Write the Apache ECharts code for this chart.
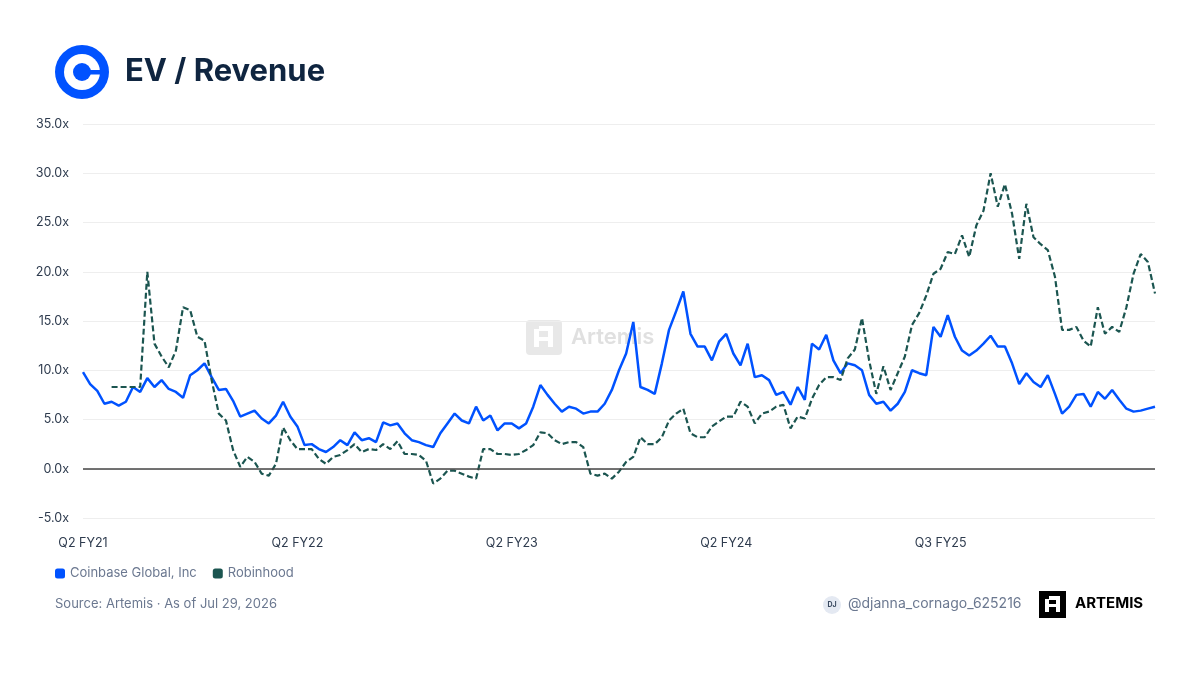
<!DOCTYPE html>
<html>
<head>
<meta charset="utf-8">
<script src="https://cdn.jsdelivr.net/npm/echarts@6/dist/echarts.min.js"></script>
<style>
  html, body { margin: 0; padding: 0; background: #fff; }
  #chart { width: 1200px; height: 675px; }
</style>
</head>
<body>
<div id="chart"></div>
<script>
// x轴刻度标签 (每30个点一个)
var tickLabels = ['Q2 FY21', 'Q2 FY22', 'Q2 FY23', 'Q2 FY24', 'Q3 FY25'];
var tickStep = 30;

// Coinbase EV/Revenue
var coinbase = [
  9.8, 8.6, 7.9, 6.6, 6.8, 6.4, 6.8, 8.3, 7.8, 9.2,
  8.3, 9.0, 8.1, 7.8, 7.2, 9.5, 10.0, 10.7, 9.3, 8.0,
  8.1, 6.9, 5.3, 5.6, 5.9, 5.1, 4.6, 5.4, 6.8, 5.3,
  4.3, 2.4, 2.5, 2.0, 1.7, 2.2, 2.9, 2.4, 3.7, 2.9,
  3.1, 2.7, 4.7, 4.4, 4.6, 3.6, 2.9, 2.7, 2.4, 2.2,
  3.6, 4.6, 5.6, 4.9, 4.6, 6.3, 4.9, 5.4, 3.9, 4.6,
  4.6, 4.1, 4.6, 6.3, 8.5, 7.5, 6.6, 5.8, 6.3, 6.1,
  5.6, 5.8, 5.8, 6.6, 8.0, 10.0, 11.7, 14.9, 8.3, 8.0,
  7.6, 10.7, 14.1, 16.0, 18.0, 13.7, 12.4, 12.4, 11.0, 12.9,
  13.7, 11.7, 10.5, 12.7, 9.3, 9.5, 9.0, 7.5, 7.8, 6.5,
  8.3, 7.0, 12.7, 12.1, 13.6, 11.0, 9.7, 10.7, 10.5, 10.0,
  7.5, 6.6, 6.8, 5.9, 6.6, 7.8, 10.0, 9.7, 9.5, 14.4,
  13.4, 15.6, 13.4, 12.0, 11.5, 12.0, 12.7, 13.5, 12.4, 12.4,
  10.7, 8.6, 9.7, 8.8, 8.3, 9.5, 7.6, 5.6, 6.3, 7.5,
  7.6, 6.3, 7.8, 7.1, 8.0, 7.0, 6.1, 5.8, 5.9, 6.1,
  6.3
];

// Robinhood EV/Revenue
var robinhood = [
  null, null, null, null, 8.3, 8.3, 8.3, 8.3, 8.3, 20.0,
  12.7, 11.4, 10.3, 12.0, 16.4, 16.1, 13.4, 13.0, 9.0, 5.6,
  4.9, 1.9, 0.2, 1.2, 0.7, -0.5, -0.7, 0.5, 4.2, 2.9,
  2.0, 2.0, 2.0, 1.0, 0.5, 1.2, 1.4, 1.9, 2.5, 1.7,
  2.0, 1.9, 2.5, 2.0, 2.8, 1.5, 1.5, 1.4, 0.8, -1.5,
  -1.0, -0.2, -0.2, -0.5, -0.8, -1.0, 2.0, 2.0, 1.5, 1.5,
  1.4, 1.5, 1.9, 2.4, 3.7, 3.6, 2.9, 2.5, 2.7, 2.7,
  2.2, -0.5, -0.7, -0.5, -1.0, -0.3, 0.7, 1.2, 3.2, 2.5,
  2.5, 3.2, 4.9, 5.6, 6.1, 3.6, 3.2, 3.2, 4.3, 4.8,
  5.3, 5.3, 6.8, 6.3, 4.6, 5.6, 5.8, 6.3, 6.5, 4.1,
  5.3, 5.1, 7.1, 8.5, 9.3, 9.3, 9.0, 11.2, 12.1, 15.3,
  11.0, 7.6, 10.4, 8.0, 9.7, 11.4, 14.6, 15.8, 17.6, 19.8,
  20.3, 22.0, 21.8, 23.7, 21.5, 24.7, 26.2, 30.0, 26.6, 28.9,
  25.9, 21.3, 26.9, 23.5, 22.8, 22.2, 19.5, 14.1, 14.1, 14.4,
  13.0, 12.4, 16.4, 13.7, 14.4, 13.9, 16.4, 19.8, 21.8, 21.0,
  17.8
];

var seriesNames = ['Coinbase Global, Inc', 'Robinhood'];
var seriesColors = ['#0052FF', '#1B5550'];

var categories = coinbase.map(function (v, i) { return i; });

var FONT = 'Inter, "Noto Sans", sans-serif';

var Chart = echarts.init(document.getElementById('chart'));
Chart.setOption({
    backgroundColor: '#ffffff',
    animation: false,
    textStyle: { fontFamily: FONT },
    grid: {
        left: 83,
        right: 45,
        top: 124,
        bottom: 157
    },
    legend: {
        left: 50,
        top: 562,
        icon: 'roundRect',
        itemWidth: 10,
        itemHeight: 10,
        itemGap: 16,
        textStyle: { color: '#6B7890', fontSize: 13, fontFamily: FONT },
        data: seriesNames
    },
    xAxis: {
        type: 'category',
        boundaryGap: false,
        data: categories,
        axisLine: { show: false },
        axisTick: { show: false },
        axisLabel: {
            interval: tickStep - 1,
            margin: 19,
            color: '#2E3B4E',
            fontSize: 12.5,
            formatter: function (v, idx) {
                return tickLabels[idx / tickStep] || '';
            }
        },
        splitLine: { show: false }
    },
    yAxis: {
        type: 'value',
        min: -5,
        max: 35,
        interval: 5,
        axisLine: { show: false },
        axisTick: { show: false },
        axisLabel: {
            margin: 14,
            color: '#2E3B4E',
            fontSize: 12.5,
            formatter: function (v) { return v.toFixed(1) + 'x'; }
        },
        splitLine: { lineStyle: { color: '#EEEEEE', width: 1 } }
    },
    graphic: [
        // 标题 logo
        { type: 'circle', shape: { cx: 82, cy: 72, r: 27 }, style: { fill: '#0052FF' } },
        { type: 'circle', shape: { cx: 82, cy: 72, r: 18 }, style: { fill: '#ffffff' } },
        { type: 'circle', shape: { cx: 82, cy: 72, r: 9 }, style: { fill: '#0052FF' } },
        { type: 'rect', shape: { x: 82, y: 70, width: 20, height: 4.5 }, style: { fill: '#0052FF' } },
        {
            type: 'text', left: 125, top: 56,
            style: { text: 'EV / Revenue', fill: '#0F2540', font: 'bold 31px ' + FONT }
        },
        // 水印
        {
            type: 'group', z: 0,
            children: [
                { type: 'rect', shape: { x: 526, y: 320, width: 36, height: 35, r: 4 }, style: { fill: '#E8E8E8' } },
                { type: 'rect', shape: { x: 534, y: 329, width: 5, height: 18 }, style: { fill: '#ffffff' } },
                { type: 'rect', shape: { x: 539, y: 326, width: 10, height: 5 }, style: { fill: '#ffffff' } },
                { type: 'rect', shape: { x: 548, y: 326, width: 5, height: 21 }, style: { fill: '#ffffff' } },
                { type: 'rect', shape: { x: 534, y: 337, width: 19, height: 4 }, style: { fill: '#ffffff' } },
                {
                    type: 'text', x: 571, y: 326,
                    style: { text: 'Artemis', fill: '#E0E0E0', font: '600 22px ' + FONT }
                }
            ]
        },
        // 来源
        {
            type: 'text', left: 55, top: 598,
            style: { text: 'Source: Artemis \u00b7 As of Jul 29, 2026', fill: '#6B7890', font: '13px ' + FONT }
        },
        // 作者
        { type: 'circle', shape: { cx: 832, cy: 605, r: 9 }, style: { fill: '#E4E9F2' } },
        {
            type: 'text', x: 832, y: 605,
            style: { text: 'DJ', fill: '#3A4A60', font: 'bold 7px ' + FONT, align: 'center', verticalAlign: 'middle' }
        },
        {
            type: 'text', left: 848, top: 597,
            style: { text: '@djanna_cornago_625216', fill: '#6B7890', font: '14px ' + FONT }
        },
        // Artemis 标志
        { type: 'rect', shape: { x: 1039, y: 591, width: 27, height: 27 }, style: { fill: '#000000' } },
        { type: 'rect', shape: { x: 1045, y: 599, width: 4, height: 13 }, style: { fill: '#ffffff' } },
        { type: 'rect', shape: { x: 1049, y: 596, width: 7, height: 4 }, style: { fill: '#ffffff' } },
        { type: 'rect', shape: { x: 1056, y: 596, width: 4, height: 16 }, style: { fill: '#ffffff' } },
        { type: 'rect', shape: { x: 1045, y: 604, width: 15, height: 3 }, style: { fill: '#ffffff' } },
        {
            type: 'text', left: 1075, top: 596,
            style: { text: 'ARTEMIS', fill: '#000000', font: 'bold 15px ' + FONT }
        }
    ],
    series: [
        {
            name: seriesNames[0],
            type: 'line',
            data: coinbase,
            showSymbol: false,
            z: 3,
            lineStyle: { color: seriesColors[0], width: 2.5 },
            itemStyle: { color: seriesColors[0] },
            markLine: {
                silent: true,
                symbol: ['none', 'none'],
                label: { show: false },
                lineStyle: { color: '#444444', width: 1.5, type: 'solid' },
                data: [{ yAxis: 0 }]
            }
        },
        {
            name: seriesNames[1],
            type: 'line',
            data: robinhood,
            showSymbol: false,
            z: 4,
            lineStyle: { color: seriesColors[1], width: 2.2, type: [6, 3] },
            itemStyle: { color: seriesColors[1] }
        }
    ]
});
</script>
</body>
</html>
